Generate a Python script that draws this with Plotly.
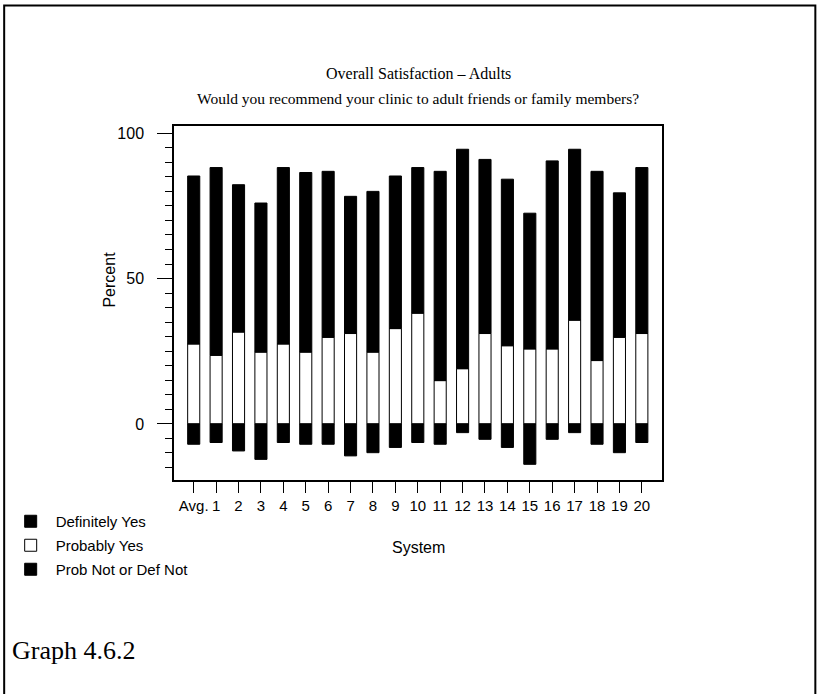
import plotly.graph_objects as go

# Survey results per system (percent)
systems = ["Avg.", "1", "2", "3", "4", "5", "6", "7", "8", "9", "10",
           "11", "12", "13", "14", "15", "16", "17", "18", "19", "20"]
definitely_yes = [57.8, 64.6, 50.7, 51.3, 60.7, 61.8, 57.1, 47.2, 55.3, 52.5, 50.1,
                  72.0, 75.5, 59.9, 57.3, 46.7, 64.7, 58.8, 65.1, 49.7, 57.1]
probably_yes = [27.5, 23.6, 31.6, 24.7, 27.5, 24.7, 29.8, 31.1, 24.7, 32.8, 38.1,
                14.9, 19.0, 31.1, 26.9, 25.8, 25.8, 35.7, 21.8, 29.8, 31.1]
prob_not = [-7.0, -6.4, -9.3, -12.2, -6.4, -7.0, -7.0, -11.0, -9.9, -8.1, -6.4,
            -7.0, -3.0, -5.3, -8.1, -13.9, -5.3, -3.0, -7.0, -9.9, -6.4]

# plot area in pixels (819 x 694 page)
L, R, T, B = 173.5, 662, 126, 480
W, H = R - L, B - T


def px(x):
    return (x - L) / W


def py(y):
    return (B - y) / H


serif = "Liberation Serif, Times New Roman, serif"
sans = "Liberation Sans, Arial, sans-serif"

fig = go.Figure()

fig.add_trace(go.Bar(
    x=systems, y=probably_yes, name="Probably Yes",
    marker=dict(color="white", line=dict(color="black", width=1)),
    width=0.54, legendrank=2, legendgroup="b"
))
fig.add_trace(go.Bar(
    x=systems, y=definitely_yes, name="Definitely Yes",
    marker=dict(color="black", line=dict(color="black", width=1)),
    width=0.54, legendrank=1, legendgroup="a"
))
fig.add_trace(go.Bar(
    x=systems, y=prob_not, name="Prob Not or Def Not",
    marker=dict(color="black", line=dict(color="black", width=1)),
    width=0.54, legendrank=3, legendgroup="c"
))

fig.update_layout(
    width=819, height=694,
    margin=dict(l=L, r=819 - R, t=T, b=694 - B, autoexpand=False),
    paper_bgcolor="white", plot_bgcolor="white",
    barmode="relative",
    font=dict(family=sans, size=15, color="black"),
    showlegend=True,
    legend=dict(
        x=px(5), y=py(505), xanchor="left", yanchor="top",
        font=dict(family=sans, size=15, color="black"),
        tracegroupgap=1.5, itemwidth=40,
        bgcolor="rgba(0,0,0,0)"
    ),
    xaxis=dict(
        type="category", range=[-0.88, 20.9],
        showline=True, linecolor="black", linewidth=1.5, mirror=True,
        ticks="outside", ticklen=11, tickcolor="black", tickwidth=1,
        showgrid=False, zeroline=False,
        tickfont=dict(family=sans, size=15),
        ticklabelstandoff=0
    ),
    yaxis=dict(
        range=[-19.3, 102.5],
        tickvals=[0, 50, 100],
        showline=True, linecolor="black", linewidth=1.5, mirror=True,
        ticks="outside", ticklen=15, tickcolor="black", tickwidth=1,
        minor=dict(dtick=5, tick0=0, ticks="outside", ticklen=7,
                   tickcolor="black", tickwidth=1, showgrid=False),
        showgrid=False, zeroline=False,
        tickfont=dict(family=sans, size=16),
        ticklabelstandoff=10
    ),
)

annotations = [
    dict(text="Overall Satisfaction \u2013 Adults", x=0.5, y=py(73),
         font=dict(family=serif, size=16)),
    dict(text="Would you recommend your clinic to adult friends or family members?",
         x=0.5, y=py(98), font=dict(family=serif, size=15.5)),
    dict(text="Percent", x=px(108), y=py(280), textangle=-90,
         font=dict(family=sans, size=16)),
    dict(text="System", x=0.5, y=py(547), font=dict(family=sans, size=16)),
    dict(text="Graph 4.6.2", x=px(9.5), y=py(650), xanchor="left",
         font=dict(family=serif, size=26)),
]
for a in annotations:
    a.setdefault("xanchor", "center")
    fig.add_annotation(xref="paper", yref="paper", showarrow=False,
                       yanchor="middle", **a)

# page border
fig.add_shape(type="rect", xref="paper", yref="paper",
              x0=px(3.5), x1=px(815.5), y0=py(5.5), y1=py(710),
              line=dict(color="black", width=2), layer="above")

# drop the default page margin so the figure sits at the window origin
fig.write_html("out.html", config={"displayModeBar": False},
               post_script="document.body.style.margin='0';")
